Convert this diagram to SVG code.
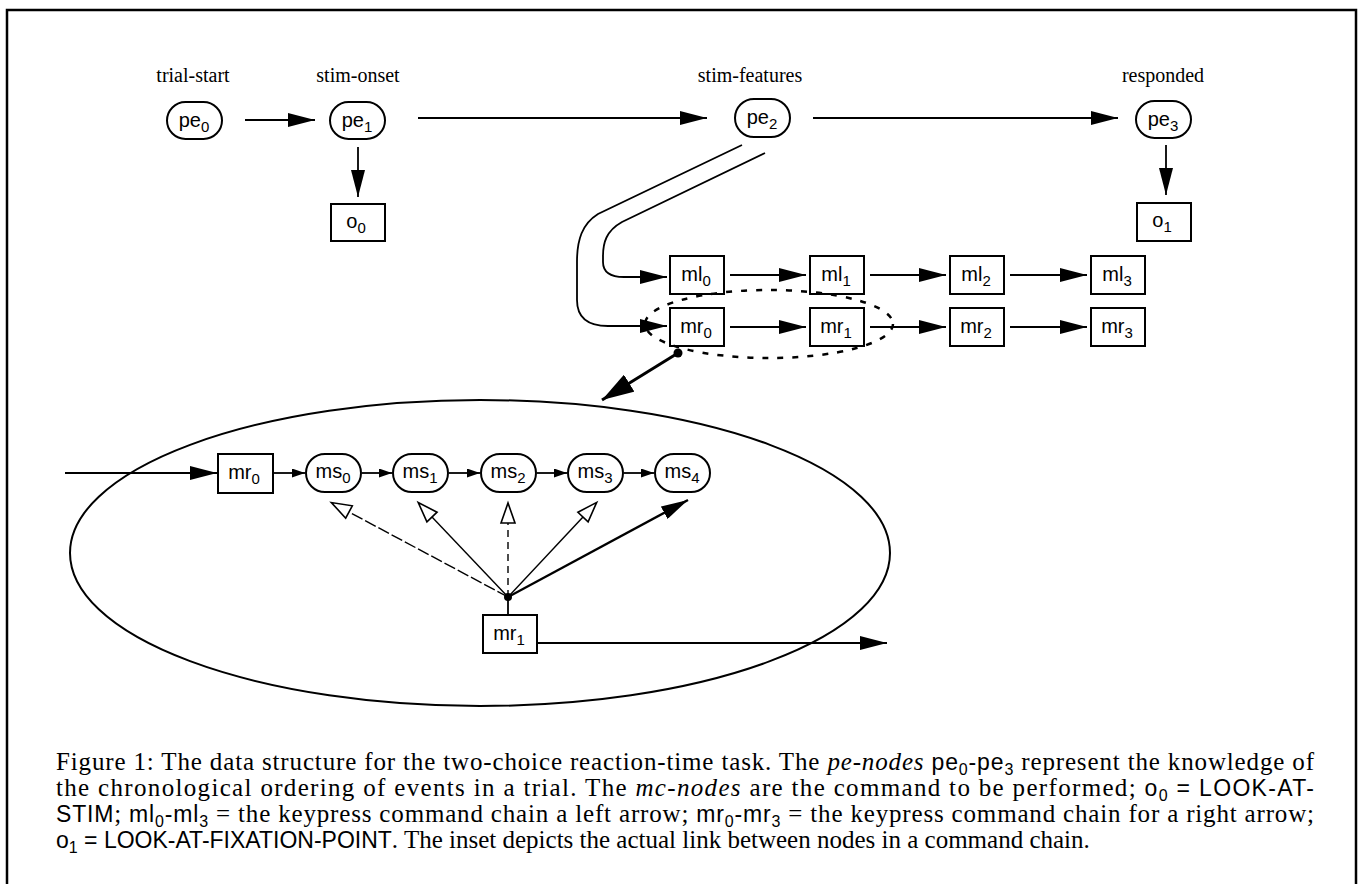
<svg xmlns="http://www.w3.org/2000/svg" width="1361" height="884" viewBox="0 0 1361 884">
<style>
.lbl{font-family:"Liberation Serif","Times New Roman",serif;font-size:20px;fill:#000;text-anchor:middle}
.nt{font-family:"Liberation Sans",Arial,sans-serif;font-size:20px;fill:#000;text-anchor:middle}
.cap{font-family:"Liberation Serif","Times New Roman",serif;font-size:25px;fill:#000}
.sf{font-family:"Liberation Sans",Arial,sans-serif;font-size:23px}
.sb{font-family:"Liberation Sans",Arial,sans-serif;font-size:16px}
.it{font-style:italic}
.node{fill:#fff;stroke:#000;stroke-width:2}
.ln{fill:none;stroke:#000;stroke-width:1.8}
.thin{fill:none;stroke:#000;stroke-width:1.4}
</style>
<defs>
<marker id="ah" markerWidth="27" markerHeight="14" refX="27" refY="7" orient="auto" markerUnits="userSpaceOnUse"><path d="M0,0 L27,7 L0,14 z" fill="#000"/></marker>
<marker id="ahs" markerWidth="13" markerHeight="9" refX="13" refY="4.5" orient="auto" markerUnits="userSpaceOnUse"><path d="M0,0 L13,4.5 L0,9 z" fill="#000"/></marker>
<marker id="ahb" markerWidth="32" markerHeight="20" refX="32" refY="10" orient="auto" markerUnits="userSpaceOnUse"><path d="M0,0 L32,10 L0,20 z" fill="#000"/></marker>
<marker id="ahh" markerWidth="24" markerHeight="16" refX="1" refY="8" orient="auto" markerUnits="userSpaceOnUse" overflow="visible"><path d="M1,1 L21,8 L1,15 z" fill="#fff" stroke="#000" stroke-width="1.6"/></marker>
</defs>
<rect x="7" y="10" width="1349" height="900" fill="none" stroke="#000" stroke-width="2.5"/>

<g id="labels">
<text class="lbl" x="193" y="82">trial-start</text>
<text class="lbl" x="358" y="82">stim-onset</text>
<text class="lbl" x="750" y="82">stim-features</text>
<text class="lbl" x="1163" y="82">responded</text>
</g>

<g id="pe0"><rect class="node" x="167" y="102" width="55" height="37" rx="18.5"/><text class="nt" x="194" y="127">pe<tspan font-size="15" dy="5">0</tspan></text></g>
<g id="pe1"><rect class="node" x="330" y="102" width="55" height="37" rx="18.5"/><text class="nt" x="357" y="127">pe<tspan font-size="15" dy="5">1</tspan></text></g>
<g id="pe2"><rect class="node" x="735" y="99" width="55" height="38" rx="19"/><text class="nt" x="762" y="124">pe<tspan font-size="15" dy="5">2</tspan></text></g>
<g id="pe3"><rect class="node" x="1136" y="101" width="55" height="37" rx="18.5"/><text class="nt" x="1163" y="126">pe<tspan font-size="15" dy="5">3</tspan></text></g>
<g id="o0"><rect class="node" x="331" y="204" width="54" height="37"/><text class="nt" x="356" y="228">o<tspan font-size="15" dy="5">0</tspan></text></g>
<g id="o1"><rect class="node" x="1137" y="203" width="54" height="38"/><text class="nt" x="1162" y="227">o<tspan font-size="15" dy="5">1</tspan></text></g>

<g id="ml0"><rect class="node" x="670" y="256" width="54" height="38"/><text class="nt" x="696" y="281">ml<tspan font-size="15" dy="5">0</tspan></text></g>
<g id="ml1"><rect class="node" x="810" y="256" width="54" height="38"/><text class="nt" x="836" y="281">ml<tspan font-size="15" dy="5">1</tspan></text></g>
<g id="ml2"><rect class="node" x="950" y="256" width="54" height="38"/><text class="nt" x="976" y="281">ml<tspan font-size="15" dy="5">2</tspan></text></g>
<g id="ml3"><rect class="node" x="1091" y="256" width="54" height="38"/><text class="nt" x="1117" y="281">ml<tspan font-size="15" dy="5">3</tspan></text></g>
<g id="mr0"><rect class="node" x="670" y="308" width="54" height="38"/><text class="nt" x="696" y="333">mr<tspan font-size="15" dy="5">0</tspan></text></g>
<g id="mr1"><rect class="node" x="810" y="308" width="54" height="38"/><text class="nt" x="836" y="333">mr<tspan font-size="15" dy="5">1</tspan></text></g>
<g id="mr2"><rect class="node" x="950" y="308" width="54" height="38"/><text class="nt" x="976" y="333">mr<tspan font-size="15" dy="5">2</tspan></text></g>
<g id="mr3"><rect class="node" x="1091" y="308" width="54" height="38"/><text class="nt" x="1117" y="333">mr<tspan font-size="15" dy="5">3</tspan></text></g>

<g id="inset-ellipse"><ellipse cx="480" cy="553" rx="410" ry="153" fill="none" stroke="#000" stroke-width="2"/></g>
<g id="selection-ellipse"><ellipse cx="769" cy="324" rx="124" ry="34" fill="none" stroke="#000" stroke-width="2.5" stroke-dasharray="6 9"/></g>

<g id="inset-mr0"><rect class="node" x="218" y="454" width="55" height="39"/><text class="nt" x="244" y="479">mr<tspan font-size="15" dy="5">0</tspan></text></g>
<g id="ms0"><rect class="node" x="306" y="454" width="55" height="38" rx="19"/><text class="nt" x="333" y="478">ms<tspan font-size="15" dy="5">0</tspan></text></g>
<g id="ms1"><rect class="node" x="393" y="454" width="55" height="38" rx="19"/><text class="nt" x="420" y="478">ms<tspan font-size="15" dy="5">1</tspan></text></g>
<g id="ms2"><rect class="node" x="481" y="454" width="55" height="38" rx="19"/><text class="nt" x="508" y="478">ms<tspan font-size="15" dy="5">2</tspan></text></g>
<g id="ms3"><rect class="node" x="568" y="454" width="55" height="38" rx="19"/><text class="nt" x="595" y="478">ms<tspan font-size="15" dy="5">3</tspan></text></g>
<g id="ms4"><rect class="node" x="655" y="454" width="55" height="38" rx="19"/><text class="nt" x="682" y="478">ms<tspan font-size="15" dy="5">4</tspan></text></g>
<g id="inset-mr1"><rect class="node" x="483" y="615" width="54" height="38"/><text class="nt" x="509" y="640">mr<tspan font-size="15" dy="5">1</tspan></text></g>

<g id="connectors">
<line class="ln" x1="245" y1="120" x2="315" y2="120" marker-end="url(#ah)"/>
<line class="ln" x1="418" y1="118" x2="707" y2="118" marker-end="url(#ah)"/>
<line class="ln" x1="813" y1="118" x2="1118" y2="118" marker-end="url(#ah)"/>
<line class="ln" x1="358" y1="147" x2="358" y2="197" marker-end="url(#ah)"/>
<line class="ln" x1="1166" y1="145" x2="1166" y2="195" marker-end="url(#ah)"/>
<path class="ln" d="M765 153 L622 222 C606 231 603 243 603 256 L603 262 C603 272 610 277 624 277 L667 277" marker-end="url(#ah)"/>
<path class="ln" d="M742 145 L598 214 C582 224 577 240 577 262 L577 300 C577 318 588 326 608 326 L667 326" marker-end="url(#ah)"/>
<line class="ln" x1="730" y1="275" x2="806" y2="275" marker-end="url(#ah)"/>
<line class="ln" x1="870" y1="275" x2="946" y2="275" marker-end="url(#ah)"/>
<line class="ln" x1="1010" y1="275" x2="1087" y2="275" marker-end="url(#ah)"/>
<line class="ln" x1="730" y1="327" x2="806" y2="327" marker-end="url(#ah)"/>
<line class="ln" x1="870" y1="327" x2="946" y2="327" marker-end="url(#ah)"/>
<line class="ln" x1="1010" y1="327" x2="1087" y2="327" marker-end="url(#ah)"/>
<circle cx="678" cy="353" r="4.5" fill="#000"/>
<line x1="678" y1="353" x2="602" y2="400" stroke="#000" stroke-width="3" marker-end="url(#ahb)"/>
<line class="ln" x1="65" y1="473" x2="217" y2="473" marker-end="url(#ah)"/>
<line class="ln" x1="274" y1="473" x2="305" y2="473" marker-end="url(#ahs)"/>
<line class="ln" x1="362" y1="473" x2="392" y2="473" marker-end="url(#ahs)"/>
<line class="ln" x1="449" y1="473" x2="480" y2="473" marker-end="url(#ahs)"/>
<line class="ln" x1="537" y1="473" x2="567" y2="473" marker-end="url(#ahs)"/>
<line class="ln" x1="624" y1="473" x2="654" y2="473" marker-end="url(#ahs)"/>
<line class="thin" x1="508" y1="597" x2="349" y2="512" stroke-dasharray="12 3" marker-end="url(#ahh)"/>
<line class="thin" x1="508" y1="597" x2="432" y2="517" marker-end="url(#ahh)"/>
<line class="thin" x1="508" y1="597" x2="508" y2="523" stroke-dasharray="7 5" marker-end="url(#ahh)"/>
<line class="thin" x1="508" y1="597" x2="583" y2="517" marker-end="url(#ahh)"/>
<line x1="508" y1="597" x2="688" y2="500" stroke="#000" stroke-width="2.4" marker-end="url(#ah)"/>
<line class="ln" x1="508" y1="597" x2="508" y2="615"/>
<circle cx="508" cy="597" r="4" fill="#000"/>
<line class="ln" x1="537" y1="643" x2="887" y2="643" marker-end="url(#ah)"/>
</g>

<g id="caption">
<text class="cap" x="56" y="770" textLength="1258" lengthAdjust="spacing">Figure 1: The data structure for the two-choice reaction-time task. The <tspan class="it">pe-nodes</tspan> <tspan class="sf">pe</tspan><tspan class="sb" dy="5">0</tspan><tspan class="sf" dy="-5">-pe</tspan><tspan class="sb" dy="5">3</tspan><tspan dy="-5"> represent the knowledge of</tspan></text>
<text class="cap" x="56" y="796" textLength="1258" lengthAdjust="spacing">the chronological ordering of events in a trial. The <tspan class="it">mc-nodes</tspan> are the command to be performed; <tspan class="sf">o</tspan><tspan class="sb" dy="5">0</tspan><tspan class="sf" dy="-5"> = LOOK-AT-</tspan></text>
<text class="cap" x="56" y="822" textLength="1258" lengthAdjust="spacing"><tspan class="sf">STIM</tspan>; <tspan class="sf">ml</tspan><tspan class="sb" dy="5">0</tspan><tspan class="sf" dy="-5">-ml</tspan><tspan class="sb" dy="5">3</tspan><tspan dy="-5"> = the keypress command chain a left arrow; </tspan><tspan class="sf">mr</tspan><tspan class="sb" dy="5">0</tspan><tspan class="sf" dy="-5">-mr</tspan><tspan class="sb" dy="5">3</tspan><tspan dy="-5"> = the keypress command chain for a right arrow;</tspan></text>
<text class="cap" x="56" y="848"><tspan class="sf">o</tspan><tspan class="sb" dy="5">1</tspan><tspan class="sf" dy="-5"> = LOOK-AT-FIXATION-POINT</tspan>. The inset depicts the actual link between nodes in a command chain.</text>
</g>
</svg>
